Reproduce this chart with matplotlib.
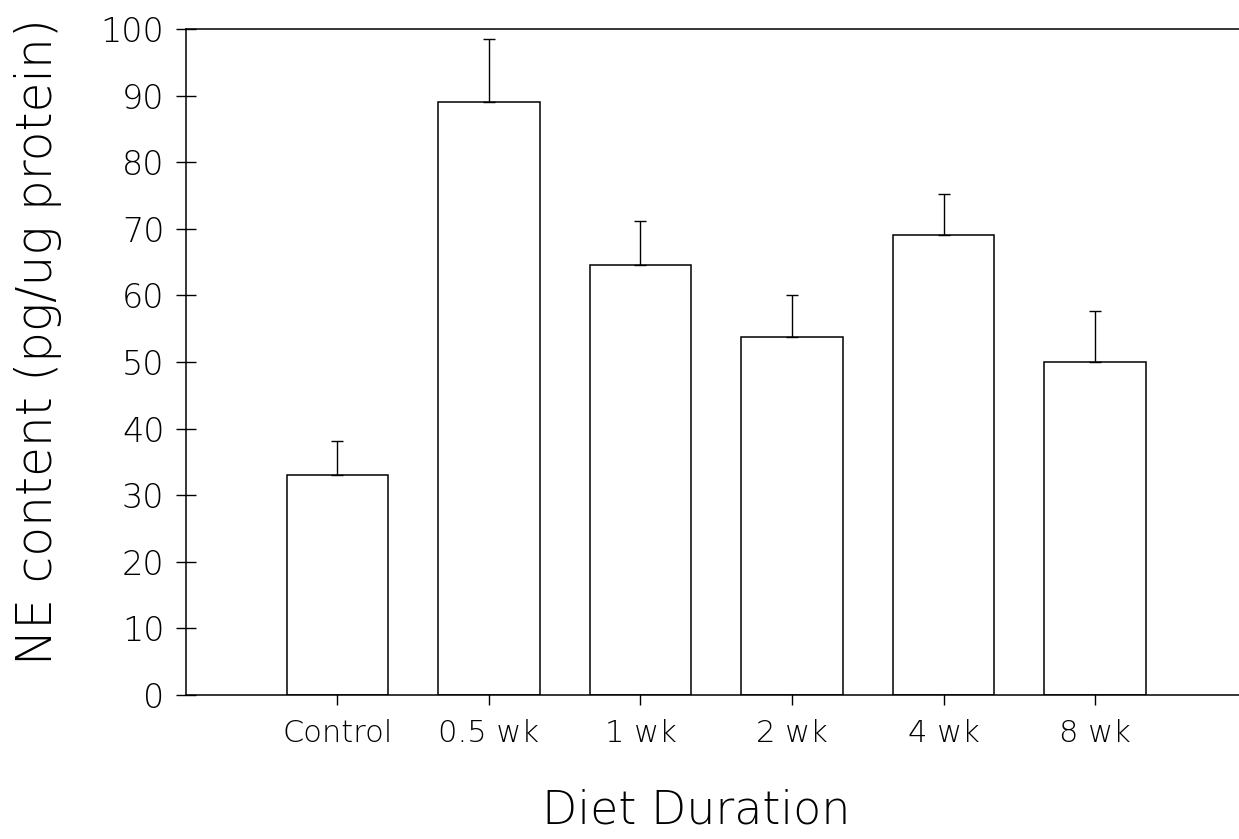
import matplotlib
matplotlib.use('Agg')
import matplotlib.pyplot as plt
import numpy as np

# data
categories = ['Control', '0.5 wk', '1 wk', '2 wk', '4 wk', '8 wk']
ne_content = [33.0, 89.0, 64.5, 53.7, 69.0, 50.0]
ne_error = [5.2, 9.5, 6.7, 6.4, 6.2, 7.6]
y_ticks = [0, 10, 20, 30, 40, 50, 60, 70, 80, 90, 100]

plt.rcParams['font.family'] = ['DejaVu Sans']
plt.rcParams['font.weight'] = 200
plt.rcParams['axes.labelweight'] = 200

fig = plt.figure(figsize=(12.39, 8.39), dpi=100)
ax = fig.add_axes([0.150, 0.1716, 0.85, 0.7938])

x = np.arange(1, len(categories) + 1)
ax.bar(x, ne_content, width=0.67, color='white', edgecolor='black', linewidth=1.1, zorder=2)
ax.errorbar(x, ne_content, yerr=[np.zeros(len(ne_error)), ne_error], fmt='none',
            ecolor='black', elinewidth=1.0, capsize=4, capthick=1.0, zorder=3)

ax.set_xlim(0, 6.95)
ax.set_ylim(0, 100)
ax.set_yticks(y_ticks)
ax.set_xticks(x)
ax.set_xticklabels(categories, fontsize=22)
ax.tick_params(axis='y', direction='inout', length=15, width=1.0, labelsize=24, pad=8)
ax.tick_params(axis='x', direction='inout', length=14, width=1.0, pad=10)

ax.spines['right'].set_visible(False)
for s in ['left', 'bottom', 'top']:
    ax.spines[s].set_linewidth(1.1)

ax.set_ylabel('NE content (pg/ug protein)', fontsize=35)
ax.yaxis.set_label_coords(-0.118, 0.53)
ax.set_xlabel('Diet Duration', fontsize=33)
ax.xaxis.set_label_coords(0.485, -0.14)

plt.savefig('out.png', dpi=100)
